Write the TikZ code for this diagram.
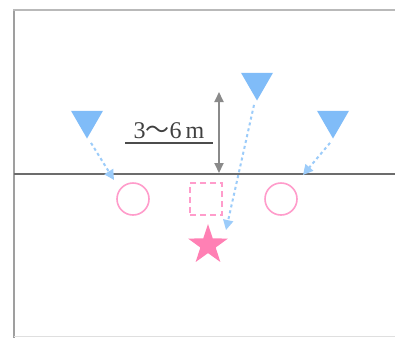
\documentclass[tikz,border=0pt]{standalone}
\usepackage{fontspec}
\setmainfont{Liberation Serif}
\newfontfamily\jpfont{Noto Sans CJK JP}
\usetikzlibrary{shapes.geometric,arrows.meta}
\definecolor{triblue}{HTML}{80BCF8}
\definecolor{arrblue}{HTML}{9CCCFA}
\definecolor{pinkline}{HTML}{FF9CCB}
\definecolor{starpink}{HTML}{FF80B4}
\definecolor{dimgray}{HTML}{8A8A8A}
\tikzset{
  tri/.style={regular polygon, regular polygon sides=3, shape border rotate=180, fill=triblue, draw=none, minimum size=37pt, inner sep=0pt},
  pcircle/.style={circle, draw=pinkline, line width=1.6pt, minimum size=32pt, inner sep=0pt},
  psquare/.style={rectangle, draw=pinkline, line width=1.8pt, dash pattern=on 6pt off 4pt, minimum size=32pt, inner sep=0pt},
  pstar/.style={star, star points=5, star point ratio=2.6, fill=starpink, draw=none, minimum size=42pt, inner sep=0pt},
  move/.style={arrblue, line width=2pt, dash pattern=on 3pt off 3pt, -{Triangle[length=10pt,width=10pt]}},
  dim/.style={dimgray, line width=2pt, {Triangle[length=10pt,width=9pt]}-{Triangle[length=10pt,width=9pt]}},
}
\begin{document}
\begin{tikzpicture}[x=1pt,y=-1pt]
\useasboundingbox (0,0) rectangle (395,338);
\fill[white] (0,0) rectangle (395,338);
% frame
\draw[gray!75, line width=2.5pt] (14,9) -- (14,338);
\draw[gray!55, line width=1.5pt] (13,10) -- (395,10);
\draw[gray!25, line width=1pt] (14,336) -- (395,336);
% base line
\draw[gray!85!black, line width=1.2pt] (14,174) -- (395,174);
% players
\node[tri] (t1) at (87,120) {};
\node[tri] (t2) at (257,82) {};
\node[tri] (t3) at (333,120) {};
\node[pcircle] (c1) at (133,199) {};
\node[pcircle] (c2) at (281,199) {};
\node[psquare] (sq) at (206,199) {};
\node[pstar] (st) at (208,245) {};
% arrow ends
\coordinate (e1) at (114,180);
\coordinate (e2) at (303,175);
\coordinate (e3) at (226,230);
\draw[move] (t1.corner 1) ++(4,4) -- (e1);
\draw[move] (t3.corner 1) ++(-3,4) -- (e2);
\draw[move] (t2.corner 1) ++(-3,4) -- (e3);
% dimension
\coordinate (d1) at (219,92);
\coordinate (d2) at (219,173);
\draw[dim] (d1) -- (d2);
\node[text=black!75, font=\fontsize{24}{24}\selectfont, inner sep=0pt, anchor=base] (lab) at (169,138) {3{\jpfont ～}6\,m};
\draw[black!70, line width=1.2pt] (125,143) -- (213,143);
\end{tikzpicture}
\end{document}
